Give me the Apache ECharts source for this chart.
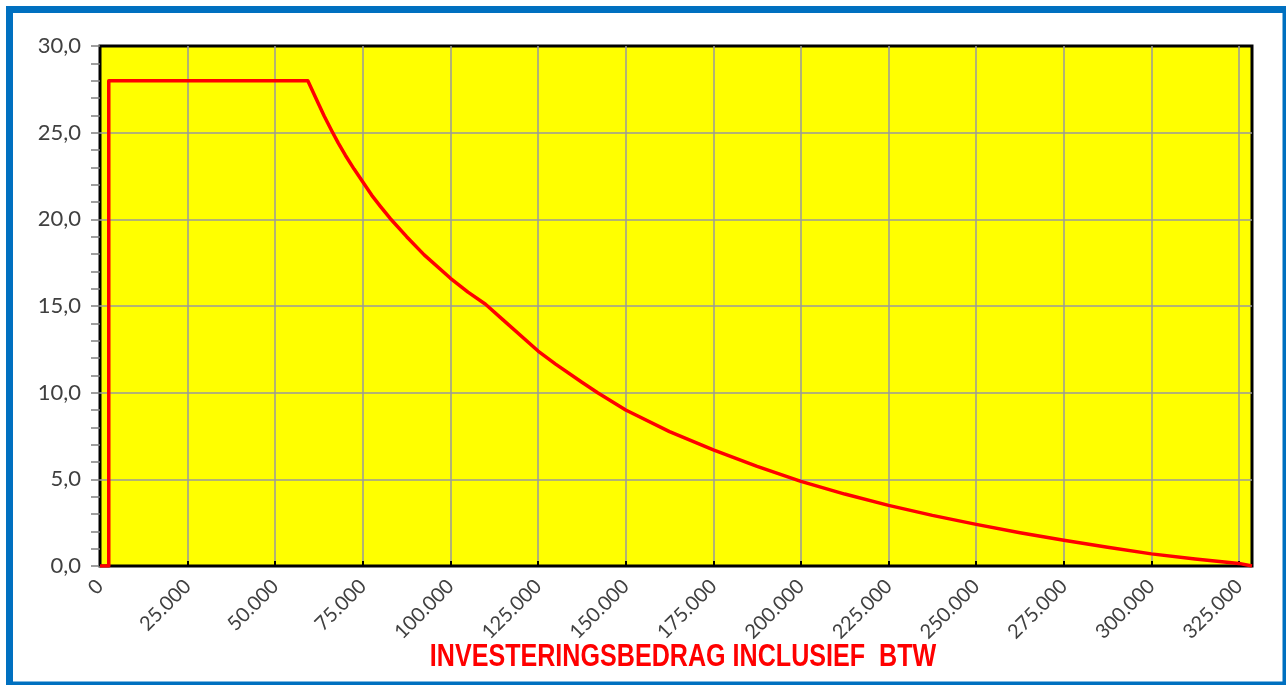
<!DOCTYPE html>
<html>
<head>
<meta charset="utf-8">
<script src="https://cdn.jsdelivr.net/npm/echarts@6/dist/echarts.min.js"></script>
<style>
html,body{margin:0;padding:0;background:#fff;}
#chart{width:1286px;height:685px;}
</style>
</head>
<body>
<div id="chart"></div>
<script>
// Investment amount incl. VAT (x) and percentage (y)
const investX = [0, 2500, 2500, 59300, 62500, 64000, 66150, 68000, 70000, 72500, 75000, 77500, 80000, 82800, 87500, 92500, 100000, 105000, 110000, 115000, 125000, 130000, 137500, 142000, 150000, 162500, 175000, 187500, 200000, 212500, 225000, 237500, 250000, 262500, 275000, 287500, 300000, 312500, 325000, 328700];
const percentY = [0, 0, 28.0, 28.0, 26.6, 25.95, 25.1, 24.4, 23.7, 22.9, 22.15, 21.4, 20.75, 20.05, 19.0, 17.95, 16.6, 15.8, 15.1, 14.2, 12.4, 11.65, 10.6, 10.0, 9.0, 7.75, 6.7, 5.75, 4.88, 4.15, 3.5, 2.92, 2.4, 1.92, 1.48, 1.08, 0.7, 0.4, 0.15, 0];
const xAxisTitle = 'INVESTERINGSBEDRAG INCLUSIEF  BTW';
const xMin = 0, xMax = 328700, xStep = 25000;
const yMin = 0, yMax = 30, yStep = 5;

const points = investX.map((x, i) => [x, percentY[i]]);
const labelFont = 'Lato';
const blue = '#0070C0';

const chart = echarts.init(document.getElementById('chart'), null, {renderer: 'canvas'});
chart.setOption({
  backgroundColor: '#ffffff',
  animation: false,
  grid: {
    left: 100, top: 46, right: 34, bottom: 119,
    show: true, backgroundColor: '#FFFF00', borderColor: '#000000', borderWidth: 3, z: 0
  },
  xAxis: {
    type: 'value', min: xMin, max: xMax, interval: xStep,
    axisLine: {show: false},
    axisTick: {show: true, inside: true, length: 5, lineStyle: {color: '#000', width: 2}},
    splitLine: {show: true, showMinLine: false, showMaxLine: false, lineStyle: {color: '#9a9a9a', width: 1.5}},
    axisLabel: {
      rotate: 45, margin: 17, showMaxLabel: false,
      fontFamily: labelFont, fontSize: 20, color: '#404040',
      formatter: v => v === 0 ? '0' : String(v).replace(/\B(?=(\d{3})+(?!\d))/g, '.')
    }
  },
  yAxis: {
    type: 'value', min: yMin, max: yMax, interval: yStep,
    axisLine: {show: false},
    axisTick: {show: true, length: 9, lineStyle: {color: '#808080', width: 1.5}},
    minorTick: {show: true, splitNumber: 5, length: 9, lineStyle: {color: '#808080', width: 1.5}},
    splitLine: {show: true, showMinLine: false, showMaxLine: false, lineStyle: {color: '#9a9a9a', width: 1.5}},
    axisLabel: {
      margin: 19, fontFamily: labelFont, fontSize: 22, color: '#404040',
      formatter: v => v.toFixed(1).replace('.', ',')
    }
  },
  series: [{
    type: 'line', data: points, showSymbol: false, smooth: false,
    lineStyle: {color: '#FF0000', width: 3.5, join: 'round'}, z: 5
  }],
  graphic: [
    {type: 'rect', shape: {x: 6, y: 6, width: 1280, height: 7}, style: {fill: blue}},
    {type: 'rect', shape: {x: 6, y: 6, width: 7, height: 679}, style: {fill: blue}},
    {type: 'rect', shape: {x: 1282.5, y: 6, width: 3.5, height: 679}, style: {fill: blue}},
    {type: 'rect', shape: {x: 6, y: 681.5, width: 1280, height: 3.5}, style: {fill: blue}},
    {type: 'text', x: 683, y: 657, scaleX: 0.81,
      style: {text: xAxisTitle, font: 'bold 31px "Liberation Sans", Arial, sans-serif',
        fill: '#FF0000', textAlign: 'center', textVerticalAlign: 'middle'}}
  ]
});
</script>
</body>
</html>
